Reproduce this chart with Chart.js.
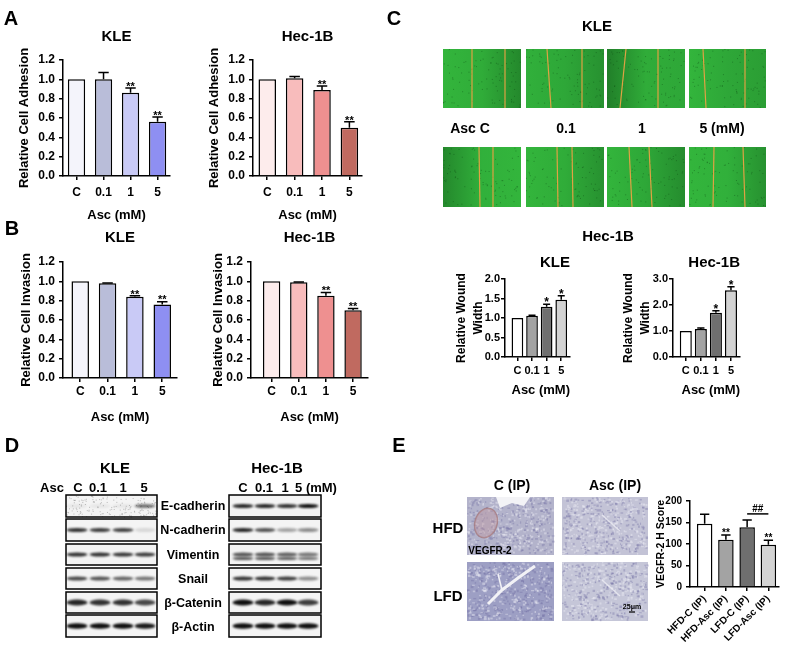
<!DOCTYPE html>
<html>
<head>
<meta charset="utf-8">
<script src="https://cdn.jsdelivr.net/npm/chart.js@4.4.1/dist/chart.umd.min.js"></script>
<style>
  html, body { margin: 0; padding: 0; background: #fff; }
  #fig { position: relative; width: 791px; height: 651px; overflow: hidden;
         font-family: "Liberation Sans", Arial, sans-serif; font-weight: bold; color: #000; }
  #fig canvas { position: absolute; }
  .t { position: absolute; transform: translate(-50%, -50%); white-space: nowrap; line-height: 1; }
</style>
</head>
<body>
<div id="fig"><canvas id="deco" width="791" height="651" style="left:0;top:0"></canvas></div>
<script>
// ---- chart data ----
const doses = ["C", "0.1", "1", "5"];
const groups = ["HFD-C (IP)", "HFD-Asc (IP)", "LFD-C (IP)", "LFD-Asc (IP)"];

const ticksRel = [0, 0.2, 0.4, 0.6, 0.8, 1.0, 1.2];
const ticksWoundKLE = [0, 0.5, 1.0, 1.5, 2.0];
const ticksWoundHec = [0, 1, 2, 3];
const ticksScore = [0, 50, 100, 150, 200];

const adhesionKLE = [1.00, 1.00, 0.86, 0.56];
const adhesionKLEErr = [0, 0.07, 0.05, 0.05];
const adhesionHec = [1.00, 1.01, 0.89, 0.50];
const adhesionHecErr = [0, 0.02, 0.04, 0.06];
const invasionKLE = [1.00, 0.98, 0.84, 0.76];
const invasionKLEErr = [0, 0.004, 0.01, 0.03];
const invasionHec = [1.00, 0.99, 0.85, 0.70];
const invasionHecErr = [0, 0.004, 0.035, 0.02];
const starsAB = ["", "", "**", "**"];

const woundKLE = [1.00, 1.06, 1.29, 1.47];
const woundKLEErr = [0, 0.01, 0.06, 0.10];
const woundHec = [1.00, 1.08, 1.70, 2.57];
const woundHecErr = [0, 0.04, 0.08, 0.13];
const starsWound = ["", "", "*", "*"];

const vegfrScore = [147, 110, 139, 98];
const vegfrErr = [22, 11, 17, 11];
const starsScore = ["", "**", "", "**"];
const scoreBracket = { from: 2, to: 3, level: 170, text: "##" };

// ---- colours ----
const blueShades = ["#f4f4fb", "#b9bdd9", "#c9caf6", "#8e8ff2"];
const redShades = ["#fdecec", "#f8bcbc", "#ee9090", "#c06a60"];
const greyShades = ["#ffffff", "#a3a3a3", "#6f6f6f", "#d3d3d3"];

const FONT = "'Liberation Sans', Arial, sans-serif";
Chart.defaults.font.family = FONT;
Chart.defaults.font.weight = "bold";
Chart.defaults.color = "#000";

const fig = document.getElementById("fig");

// error bars, asterisks and the ## bracket
const barExtras = {
  id: "barExtras",
  afterDatasetsDraw(chart, args, opts) {
    const ctx = chart.ctx;
    const ds = chart.data.datasets[0];
    const meta = chart.getDatasetMeta(0);
    const y = chart.scales.y, x = chart.scales.x;
    ctx.save();
    ctx.strokeStyle = "#000";
    ctx.fillStyle = "#000";
    ctx.lineWidth = 1.5;
    ctx.textAlign = "center";
    ctx.textBaseline = "alphabetic";
    ctx.font = "bold " + opts.starSize + "px " + FONT;
    meta.data.forEach((bar, i) => {
      const val = ds.data[i].y;
      const top = y.getPixelForValue(val + ds.errs[i]);
      const cap = bar.width * 0.3;
      if (ds.errs[i] > 0) {
        ctx.beginPath();
        ctx.moveTo(bar.x, bar.y);
        ctx.lineTo(bar.x, top);
        ctx.moveTo(bar.x - cap, top);
        ctx.lineTo(bar.x + cap, top);
        ctx.stroke();
      }
      // asterisk glyphs sit high in the em box, so the baseline goes a little below the cap
      if (ds.stars[i]) ctx.fillText(ds.stars[i], bar.x, top + opts.starSize * 0.38 - 2.5);
    });
    if (opts.bracket) {
      const b = opts.bracket;
      const yy = y.getPixelForValue(b.level);
      const x0 = x.getPixelForValue(b.from), x1 = x.getPixelForValue(b.to);
      ctx.beginPath();
      ctx.moveTo(x0, yy);
      ctx.lineTo(x1, yy);
      ctx.stroke();
      ctx.fillText(b.text, (x0 + x1) / 2, yy - 2);
    }
    ctx.restore();
  }
};

function barChart(o) {
  const lhT = 15 * 1.2;
  const yLh = o.yLh || 1.2;
  const lhY = o.yFont * yLh;
  const lhX = 13 * 1.2;
  const topPad = o.title ? Math.round(4 + lhT + (o.T - o.titleY - lhT / 2)) : 12;
  const yW = Math.round(o.L - (o.yTitleX - lhY / 2));
  const xH = o.xTitleY ? Math.round(o.xTitleY - o.B + lhX / 2) : o.xH;
  const w = yW + (o.R - o.L) + 10;
  const h = topPad + (o.B - o.T) + xH;
  const cv = document.createElement("canvas");
  cv.width = w;
  cv.height = h;
  cv.style.left = (o.L - yW) + "px";
  cv.style.top = (o.T - topPad) + "px";
  fig.appendChild(cv);

  const axisGrid = { display: true, drawOnChartArea: false, drawTicks: true, tickLength: 4, color: "#000", lineWidth: 1.5, offset: false };
  const axisBorder = { display: true, color: "#000", width: 1.5 };
  const align = o.align || "center";

  return new Chart(cv, {
    type: "bar",
    data: {
      datasets: [{
        data: o.values.map((v, i) => ({ x: i, y: v })),
        errs: o.errs,
        stars: o.stars,
        backgroundColor: o.colors,
        borderColor: "#000",
        borderWidth: 1.5,
        categoryPercentage: 1,
        barPercentage: o.frac
      }]
    },
    options: {
      responsive: false,
      animation: false,
      layout: { padding: { top: o.title ? 4 : topPad, right: 10, bottom: 0, left: 0 } },
      plugins: {
        legend: { display: false },
        tooltip: { enabled: false },
        title: o.title ? {
          display: true, text: o.title, fullSize: false, color: "#000", align: align,
          font: { size: 15, weight: "bold", lineHeight: 1.2 },
          padding: { top: 0, bottom: topPad - 4 - lhT }
        } : { display: false },
        barExtras: { starSize: o.starSize || 11, bracket: o.bracket }
      },
      scales: {
        x: {
          type: "linear", min: o.xMin, max: o.xMax, offset: false,
          afterBuildTicks: s => { s.ticks = o.labels.map((_, i) => ({ value: i })); },
          afterFit: s => { s.height = xH; },
          ticks: {
            callback: v => o.labels[v], autoSkip: false,
            font: { size: o.xtFont }, padding: o.xtPad,
            maxRotation: o.rot || 0, minRotation: o.rot || 0
          },
          grid: axisGrid, border: axisBorder,
          title: o.xTitleY ? { display: true, text: "Asc (mM)", align: align, font: { size: 13, lineHeight: 1.2 }, padding: 0 } : { display: false }
        },
        y: {
          min: 0, max: o.yMax,
          afterBuildTicks: s => { s.ticks = o.yTicks.map(v => ({ value: v })); },
          afterFit: s => { s.width = yW; },
          ticks: { callback: o.fmt, font: { size: o.ytFont }, padding: o.ytPad === undefined ? 4 : o.ytPad },
          grid: axisGrid, border: axisBorder,
          title: { display: true, text: o.yTitle, font: { size: o.yFont, lineHeight: yLh }, padding: 0 }
        }
      }
    },
    plugins: [barExtras]
  });
}

const f1 = v => v.toFixed(1);
const f0 = v => String(v);

// A
barChart({ L: 63, R: 170, T: 60, B: 176, xMin: -0.5, xMax: 3.46, title: "KLE", titleY: 37,
  yTitle: "Relative Cell Adhesion", yTitleX: 25, yFont: 13, xTitleY: 215, xtPad: 5, xtFont: 12, ytFont: 12,
  labels: doses, values: adhesionKLE, errs: adhesionKLEErr, stars: starsAB, colors: blueShades,
  yMax: 1.2, yTicks: ticksRel, fmt: f1, frac: 0.64 });
barChart({ L: 253, R: 362, T: 60, B: 176, xMin: -0.52, xMax: 3.46, title: "Hec-1B", titleY: 37,
  yTitle: "Relative Cell Adhesion", yTitleX: 215, yFont: 13, xTitleY: 215, xtPad: 5, xtFont: 12, ytFont: 12,
  labels: doses, values: adhesionHec, errs: adhesionHecErr, stars: starsAB, colors: redShades,
  yMax: 1.2, yTicks: ticksRel, fmt: f1, frac: 0.64 });
// B
barChart({ L: 63, R: 177, T: 262, B: 378, xMin: -0.63, xMax: 3.54, title: "KLE", titleY: 238,
  yTitle: "Relative Cell Invasion", yTitleX: 27, yFont: 13, xTitleY: 417, xtPad: 2, xtFont: 12, ytFont: 12,
  labels: doses, values: invasionKLE, errs: invasionKLEErr, stars: starsAB, colors: blueShades,
  yMax: 1.2, yTicks: ticksRel, fmt: f1, frac: 0.64 });
barChart({ L: 251, R: 368, T: 262, B: 378, xMin: -0.76, xMax: 3.55, title: "Hec-1B", titleY: 238,
  yTitle: "Relative Cell Invasion", yTitleX: 219, yFont: 13, xTitleY: 417, xtPad: 2, xtFont: 12, ytFont: 12,
  labels: doses, values: invasionHec, errs: invasionHecErr, stars: starsAB, colors: redShades,
  yMax: 1.2, yTicks: ticksRel, fmt: f1, frac: 0.64 });
// C
barChart({ L: 505, R: 570, T: 279, B: 357, xMin: -0.85, xMax: 3.6, title: "KLE", titleY: 263, align: "end",
  yTitle: ["Relative Wound", "Width"], yTitleX: 462, yFont: 12, yLh: 1.35, xTitleY: 390, xtPad: 3.5, xtFont: 11, ytFont: 11, ytPad: 1,
  labels: doses, values: woundKLE, errs: woundKLEErr, stars: starsWound, colors: greyShades,
  yMax: 2.0, yTicks: ticksWoundKLE, fmt: f1, frac: 0.8, starSize: 12 });
barChart({ L: 673, R: 740, T: 279, B: 357, xMin: -0.85, xMax: 3.6, title: "Hec-1B", titleY: 263, align: "end",
  yTitle: ["Relative Wound", "Width"], yTitleX: 629, yFont: 12, yLh: 1.35, xTitleY: 390, xtPad: 3.5, xtFont: 11, ytFont: 11, ytPad: 1,
  labels: doses, values: woundHec, errs: woundHecErr, stars: starsWound, colors: greyShades,
  yMax: 3.0, yTicks: ticksWoundHec, fmt: f1, frac: 0.8, starSize: 12 });
// E
barChart({ L: 690, R: 779, T: 501, B: 587, xMin: -0.69, xMax: 3.5,
  yTitle: "VEGFR-2 H Score", yTitleX: 661, yFont: 10.5, xH: 62, xtPad: 2, xtFont: 10, ytFont: 10, rot: 45,
  labels: groups, values: vegfrScore, errs: vegfrErr, stars: starsScore, colors: greyShades,
  yMax: 200, yTicks: ticksScore, fmt: f0, frac: 0.73, starSize: 10, bracket: scoreBracket });

// ---- text labels ----
const labels = [
  ["A", 11, 18, 20], ["B", 12, 228, 20], ["C", 394, 18, 20], ["D", 12, 445, 20], ["E", 399, 445, 20],
  ["KLE", 597, 25, 15], ["Asc C", 470, 128, 14], ["0.1", 566, 128, 14], ["1", 642, 128, 14],
  ["5 (mM)", 722, 128, 14], ["Hec-1B", 608, 235, 15],
  ["KLE", 115, 467, 15], ["Hec-1B", 277, 467, 15],
  ["Asc", 52, 487, 13], ["C", 78, 487, 13], ["0.1", 98, 487, 13], ["1", 123, 487, 13], ["5", 144, 487, 13],
  ["C", 243, 487, 13], ["0.1", 264, 487, 13], ["1", 285, 487, 13], ["5 (mM)", 316, 487, 13],
  ["E-cadherin", 193, 506, 12.5], ["N-cadherin", 193, 530, 12.5], ["Vimentin", 193, 555, 12.5],
  ["Snail", 193, 579, 12.5], ["β-Catenin", 193, 603, 12.5], ["β-Actin", 193, 627, 12.5],
  ["C (IP)", 512, 485, 14], ["Asc (IP)", 615, 485, 14], ["HFD", 448, 527, 15], ["LFD", 448, 595, 15],
  ["VEGFR-2", 490, 551, 10], ["25μm", 632, 606, 7]
];
labels.forEach(([txt, x, y, size]) => {
  const d = document.createElement("div");
  d.className = "t";
  d.textContent = txt;
  d.style.left = x + "px";
  d.style.top = y + "px";
  d.style.fontSize = size + "px";
  fig.appendChild(d);
});

// ---- image panels (wound photos, blots, IHC) ----
const ctx = document.getElementById("deco").getContext("2d");
function seeded(s) { return () => { s = (s * 16807) % 2147483647; return (s - 1) / 2147483646; }; }

const woundRowsY = [[49, 108], [147, 207]];
const woundColsX = [[443, 521], [526, 604], [607, 685], [689, 766]];
const woundShade = [
  [[0.95, 0.85, 0.45], [0.9, 0.8, 0.55], [0.35, 0.85, 0.8], [0.95, 0.8, 0.7]],
  [[0.45, 0.9, 0.95], [0.95, 0.85, 0.55], [0.95, 0.8, 0.5], [0.95, 0.9, 0.55]]
];
const woundLines = [
  [[[472, 472], [505, 505]], [[547, 551], [582, 582]], [[626, 620], [658, 658]], [[703, 706], [745, 745]]],
  [[[479, 480], [493, 493]], [[557, 558], [572, 573]], [[629, 632], [649, 652]], [[714, 713], [743, 745]]]
];
const green = b => `rgb(${Math.round(22 + 30 * b)},${Math.round(95 + 90 * b)},${Math.round(30 + 32 * b)})`;
const rnd = seeded(7);
woundRowsY.forEach(([y0, y1], r) => {
  woundColsX.forEach(([x0, x1], c) => {
    const sh = woundShade[r][c];
    const g = ctx.createLinearGradient(x0, 0, x1, 0);
    g.addColorStop(0, green(sh[0]));
    g.addColorStop(0.5, green(sh[1]));
    g.addColorStop(1, green(sh[2]));
    ctx.fillStyle = g;
    ctx.fillRect(x0, y0, x1 - x0, y1 - y0);
    ctx.fillStyle = "rgba(10,60,15,0.35)";
    for (let k = 0; k < 90; k++) ctx.fillRect(x0 + rnd() * (x1 - x0 - 1), y0 + rnd() * (y1 - y0 - 1), 1, 1);
    ctx.strokeStyle = "#e0a244";
    ctx.lineWidth = 1.2;
    woundLines[r][c].forEach(([xt, xb]) => {
      ctx.beginPath(); ctx.moveTo(xt, y0); ctx.lineTo(xb, y1); ctx.stroke();
    });
  });
});

// western blots
const blotRowsY = [[495, 517], [519, 541], [544, 565], [568, 589], [592, 613], [615, 637]];
const blotBoxX = [[66, 157], [229, 321]];
const laneX = [[77, 100, 123, 145], [243, 265, 287, 308]];
const bandsKLE = [[0.06, 0.06, 0.06, 0.55], [0.85, 0.8, 0.78, 0.12], [0.85, 0.85, 0.82, 0.8],
  [0.75, 0.7, 0.62, 0.55], [0.9, 0.85, 0.85, 0.75], [1, 1, 1, 0.95]];
const bandsHec = [[0.9, 0.9, 0.85, 1], [0.9, 0.7, 0.35, 0.45], [0.7, 0.7, 0.65, 0.55],
  [0.85, 0.85, 0.8, 0.45], [1, 0.9, 1, 0.8], [1, 1, 1, 1]];
[bandsKLE, bandsHec].forEach((bands, p) => {
  const [bx0, bx1] = blotBoxX[p];
  blotRowsY.forEach(([y0, y1], r) => {
    ctx.fillStyle = "#f4f4f4";
    ctx.fillRect(bx0, y0, bx1 - bx0, y1 - y0);
    if (p === 0 && r === 0) {
      ctx.fillStyle = "rgba(80,80,80,0.35)";
      for (let k = 0; k < 160; k++) ctx.fillRect(bx0 + rnd() * (bx1 - bx0), y0 + rnd() * (y1 - y0), 1, 1);
    }
    ctx.save();
    ctx.filter = "blur(1.1px)";
    const yc = (y0 + y1) / 2;
    bands[r].forEach((a, l) => {
      ctx.fillStyle = `rgba(15,15,15,${a})`;
      const hh = r === 4 ? 6 : (r === 5 ? 5.5 : 4);
      ctx.beginPath();
      ctx.ellipse(laneX[p][l], yc, 10.5, hh / 2, 0, 0, Math.PI * 2);
      ctx.fill();
      if (p === 1 && r === 2) {
        ctx.beginPath();
        ctx.ellipse(laneX[p][l], yc + 4, 10.5, 1.6, 0, 0, Math.PI * 2);
        ctx.fill();
      }
    });
    ctx.restore();
    ctx.strokeStyle = "#000";
    ctx.lineWidth = 1.5;
    ctx.strokeRect(bx0, y0, bx1 - bx0, y1 - y0);
  });
});

// IHC tiles
const ihcTiles = [
  [467, 497, 554, 555, "#b3b3cb"], [562, 497, 648, 555, "#c3c3d6"],
  [467, 562, 554, 621, "#9d9fc4"], [562, 562, 648, 621, "#c5c6d8"]
];
ihcTiles.forEach(([x0, y0, x1, y1, base], n) => {
  ctx.fillStyle = base;
  ctx.fillRect(x0, y0, x1 - x0, y1 - y0);
  for (let k = 0; k < 520; k++) {
    const px = x0 + rnd() * (x1 - x0 - 2), py = y0 + rnd() * (y1 - y0 - 2);
    ctx.fillStyle = rnd() < 0.5 ? "rgba(110,105,160,0.35)" : "rgba(235,235,245,0.45)";
    ctx.fillRect(px, py, 1 + rnd() * 2, 1 + rnd() * 1.5);
  }
  ctx.save();
  ctx.beginPath(); ctx.rect(x0, y0, x1 - x0, y1 - y0); ctx.clip();
  if (n === 0) {
    ctx.fillStyle = "#f3f3f6";
    ctx.beginPath();
    ctx.moveTo(496, 497); ctx.lineTo(530, 497); ctx.lineTo(524, 506); ctx.lineTo(512, 503); ctx.lineTo(500, 508);
    ctx.closePath(); ctx.fill();
    ctx.strokeStyle = "rgba(160,110,110,0.7)"; ctx.lineWidth = 1.5;
    ctx.beginPath(); ctx.ellipse(486, 523, 11, 15, 0.3, 0, Math.PI * 2); ctx.stroke();
    ctx.fillStyle = "rgba(190,150,160,0.45)"; ctx.fill();
  }
  if (n === 2) {
    ctx.strokeStyle = "#f2f2f6"; ctx.lineWidth = 3;
    ctx.beginPath(); ctx.moveTo(488, 604); ctx.lineTo(502, 590); ctx.lineTo(518, 578); ctx.lineTo(535, 566); ctx.stroke();
    ctx.lineWidth = 1.5;
    ctx.beginPath(); ctx.moveTo(502, 590); ctx.lineTo(498, 574); ctx.stroke();
  }
  if (n === 1 || n === 3) {
    ctx.strokeStyle = "rgba(235,235,242,0.8)"; ctx.lineWidth = 1.5;
    ctx.beginPath(); ctx.moveTo(x0 + 40, y0 + 18); ctx.lineTo(x0 + 58, y0 + 34); ctx.stroke();
  }
  ctx.restore();
});
ctx.strokeStyle = "#000"; ctx.lineWidth = 1.2;
ctx.beginPath(); ctx.moveTo(629, 612); ctx.lineTo(635, 612); ctx.stroke();
</script>
</body>
</html>
